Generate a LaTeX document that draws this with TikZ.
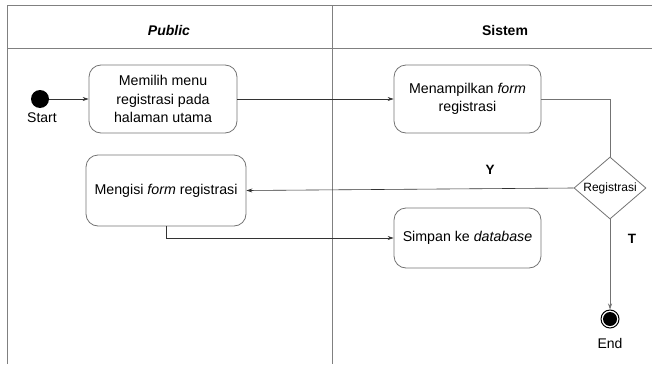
\documentclass[tikz,border=0pt]{standalone}
\usepackage{fontspec}
\setmainfont{Liberation Sans}
\usetikzlibrary{arrows.meta,shapes.geometric}
\begin{document}
\begin{tikzpicture}[x=1pt,y=-1pt,
  act/.style={draw=black!55, rounded corners=12pt, line width=0.8pt, align=center,
    font=\fontsize{14.2}{18.5}\selectfont, inner sep=0pt},
  dec/.style={draw=black!55, diamond, line width=0.8pt, inner sep=0pt,
    minimum width=72pt, minimum height=62pt},
  frame/.style={draw=black!50, line width=1pt},
  arr/.style={draw=black!80, line width=0.6pt, -{Stealth[length=6pt,width=4pt]}},
  plain/.style={draw=black!80, line width=0.6pt},
  lbl/.style={font=\fontsize{14}{16}\selectfont},
  guard/.style={font=\bfseries\fontsize{13.5}{15}\selectfont}]
\useasboundingbox (0,0) rectangle (652,364);
% swimlane frame
\draw[frame] (7,364) -- (7,5) -- (652,5);
\draw[frame] (7,48) -- (652,48);
\draw[frame] (332,5) -- (332,364);
\node[font=\bfseries\itshape\fontsize{14}{16}\selectfont] (hpub) at (169,30) {Public};
\node[font=\bfseries\fontsize{14}{16}\selectfont] (hsys) at (505,30) {Sistem};
% nodes
\node[circle, fill=black, minimum size=18pt, inner sep=0pt] (start) at (40,99) {};
\node[lbl] (startlbl) at (42,118) {Start};
\node[act, minimum width=148pt, minimum height=68pt] (b1) at (163,99)
  {Memilih menu\\registrasi pada\\halaman utama};
\node[act, minimum width=147pt, minimum height=68pt] (b2) at (467.5,99)
  {Menampilkan \textit{form}\\registrasi};
\node[act, minimum width=160pt, minimum height=71pt] (b3) at (166,190.5)
  {Mengisi \textit{form} registrasi};
\node[act, minimum width=147pt, minimum height=60pt] (b4) at (467.5,238)
  {Simpan ke \textit{database}};
\node[dec] (dec) at (610,188) {};
\node[font=\fontsize{12}{14}\selectfont] (declbl) at (dec.center) {Registrasi};
\node[circle, draw=black, line width=1pt, fill=white, minimum size=18pt, inner sep=0pt] (end) at (610,319) {};
\node[circle, fill=black, minimum size=14pt, inner sep=0pt] (endin) at (end.center) {};
\node[lbl] (endlbl) at (610,343) {End};
\node[guard] (ylbl) at (490,170) {Y};
\node[guard] (tlbl) at (632,239) {T};
% connectors
\draw[arr] (start) -- (b1);
\draw[arr] (b1) -- (b2);
\draw[plain, draw=black!55] (b2.east) -| (dec.north);
\draw[arr] (dec.west) -- (b3.east);
\draw[arr] (b3.south) |- (b4.west);
\draw[arr, draw=black!55] (dec.south) -- (end.north);
\end{tikzpicture}
\end{document}
